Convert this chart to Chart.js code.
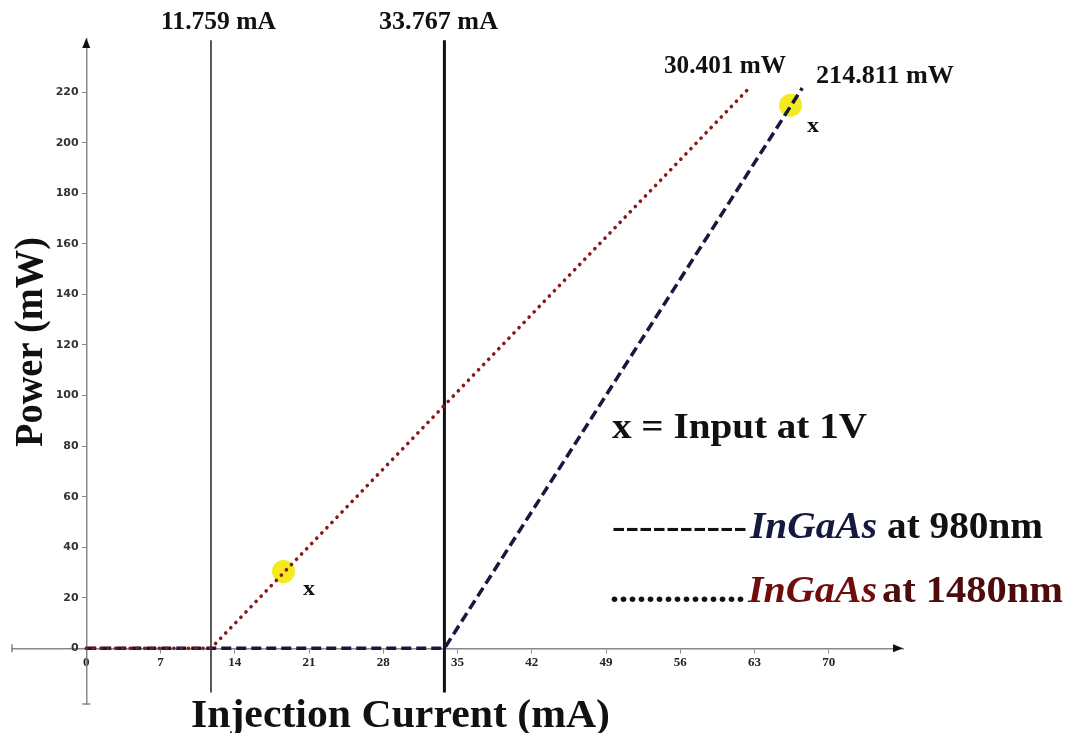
<!DOCTYPE html>
<html>
<head>
<meta charset="utf-8">
<script src="https://cdn.jsdelivr.net/npm/chart.js@4.4.0/dist/chart.umd.min.js"></script>
<style>
  html, body { margin: 0; padding: 0; background: #fff; }
  #wrap { width: 1072px; height: 733px; }
</style>
</head>
<body>
<div id="wrap"><canvas id="liChart" width="1072" height="733"></canvas></div>
<script>
// tick labels
var currentTicks = [0, 7, 14, 21, 28, 35, 42, 49, 56, 63, 70];
var powerTicks = [0, 20, 40, 60, 80, 100, 120, 140, 160, 180, 200, 220];

// threshold currents (mA)
var thresholdCurrents = [11.759, 33.767];
var thresholdSpan = [-17.5, 240.5];

// InGaAs at 980nm
var ingaas980Current = [0, 33.767, 67.5];
var ingaas980Power = [0, 0, 221.6];

// InGaAs at 1480nm
var ingaas1480Current = [0, 11.759, 62.4];
var ingaas1480Power = [0, 0, 221.2];

// input at 1V
var inputCurrent = [18.6, 66.4];
var inputPower = [30.401, 214.811];

function toPoints(xs, ys) {
  return xs.map(function(x, i) { return {x: x, y: ys[i]}; });
}

var serif = '"Liberation Serif", "Times New Roman", serif';

// draw text stretched to a given width
function fitText(ctx, text, x, y, w, font, color) {
  ctx.save();
  ctx.font = font;
  ctx.fillStyle = color;
  ctx.textAlign = 'left';
  ctx.textBaseline = 'alphabetic';
  var m = ctx.measureText(text).width;
  ctx.translate(x, y);
  ctx.scale(w / m, 1);
  ctx.fillText(text, 0, 0);
  ctx.restore();
}

var labels = [
  ['11.759 mA', 161, 29, 115, 'bold 26px ' + serif, '#111'],
  ['33.767 mA', 379, 29, 119, 'bold 26px ' + serif, '#111'],
  ['30.401 mW', 664, 73, 122, 'bold 25px ' + serif, '#111'],
  ['214.811 mW', 816, 83, 138, 'bold 25px ' + serif, '#111'],
  ['x', 303, 595, 12, 'bold 21px ' + serif, '#111'],
  ['x', 807, 132, 12, 'bold 21px ' + serif, '#111'],
  ['x = Input at 1V', 612, 438, 255, 'bold 36px ' + serif, '#111'],
  ['----------', 612, 538, 135, 'bold 36px ' + serif, '#111'],
  ['InGaAs', 750, 538, 127, 'italic bold 37px ' + serif, '#15183f'],
  ['at 980nm', 887, 538, 156, 'bold 37px ' + serif, '#111'],
  ['...............', 610, 602, 135, 'bold 34px ' + serif, '#111'],
  ['InGaAs', 748, 602, 129, 'italic bold 37px ' + serif, '#700c0c'],
  ['at 1480nm', 882, 602, 181, 'bold 37px ' + serif, '#4e0b0b'],
  ['Injection Current (mA)', 191, 727, 419, 'bold 39px ' + serif, '#111']
];

var annotations = {
  id: 'annotations',
  afterDraw: function(chart) {
    var ctx = chart.ctx;
    var area = chart.chartArea;
    var x0 = chart.scales.x.getPixelForValue(0);
    var y0 = chart.scales.y.getPixelForValue(0);
    ctx.save();
    // arrow heads
    ctx.fillStyle = '#111';
    ctx.beginPath();
    ctx.moveTo(x0, area.top - 1);
    ctx.lineTo(x0 - 4, area.top + 9);
    ctx.lineTo(x0 + 4, area.top + 9);
    ctx.closePath();
    ctx.fill();
    ctx.beginPath();
    ctx.moveTo(area.right, y0);
    ctx.lineTo(area.right - 10, y0 - 4);
    ctx.lineTo(area.right - 10, y0 + 4);
    ctx.closePath();
    ctx.fill();
    // end ticks
    ctx.strokeStyle = '#888';
    ctx.lineWidth = 1.5;
    ctx.beginPath();
    ctx.moveTo(area.left, y0 - 4);
    ctx.lineTo(area.left, y0 + 4);
    ctx.moveTo(x0 - 4, area.bottom);
    ctx.lineTo(x0 + 4, area.bottom);
    ctx.stroke();
    ctx.restore();

    labels.forEach(function(l) {
      fitText(ctx, l[0], l[1], l[2], l[3], l[4], l[5]);
    });

    // y axis title
    ctx.save();
    ctx.translate(42, 447);
    ctx.rotate(-Math.PI / 2);
    fitText(ctx, 'Power (mW)', 0, 0, 210, 'bold 40px ' + serif, '#111');
    ctx.restore();
  }
};

var ctx = document.getElementById('liChart').getContext('2d');
new Chart(ctx, {
  type: 'scatter',
  data: {
    datasets: [
      {
        label: 'InGaAs at 1480nm',
        data: toPoints(ingaas1480Current, ingaas1480Power),
        showLine: true,
        borderColor: '#8b1717',
        borderWidth: 3.6,
        borderDash: [0.1, 7.2],
        borderCapStyle: 'round',
        pointRadius: 0,
        tension: 0
      },
      {
        label: 'InGaAs at 980nm',
        data: toPoints(ingaas980Current, ingaas980Power),
        showLine: true,
        borderColor: '#15183f',
        borderWidth: 3.5,
        borderDash: [10, 5],
        pointRadius: 0,
        tension: 0
      },
      {
        label: 'threshold 1',
        data: toPoints([thresholdCurrents[0], thresholdCurrents[0]], thresholdSpan),
        showLine: true,
        borderColor: '#222',
        borderWidth: 1.5,
        pointRadius: 0
      },
      {
        label: 'threshold 2',
        data: toPoints([thresholdCurrents[1], thresholdCurrents[1]], thresholdSpan),
        showLine: true,
        borderColor: '#111',
        borderWidth: 3,
        pointRadius: 0
      },
      {
        label: 'Input at 1V',
        data: toPoints(inputCurrent, inputPower),
        showLine: false,
        backgroundColor: 'rgba(244,232,20,0.95)',
        borderWidth: 0,
        pointRadius: 11.5
      }
    ]
  },
  options: {
    responsive: false,
    animation: false,
    layout: {
      padding: {left: 12, right: 169, top: 39, bottom: 29}
    },
    plugins: {
      legend: {display: false},
      tooltip: {enabled: false}
    },
    scales: {
      x: {
        type: 'linear',
        min: -7,
        max: 77,
        position: {y: 0},
        afterBuildTicks: function(scale) {
          scale.ticks = currentTicks.map(function(v) { return {value: v}; });
        },
        grid: {display: true, drawOnChartArea: false, drawTicks: true, tickLength: 4, color: '#888'},
        border: {display: true, color: '#888', width: 1.5},
        ticks: {
          autoSkip: false,
          maxRotation: 0,
          padding: 2,
          color: '#222',
          font: {family: serif, size: 13, weight: 'bold'}
        }
      },
      y: {
        type: 'linear',
        min: -22,
        max: 241,
        position: {x: 0},
        afterBuildTicks: function(scale) {
          scale.ticks = powerTicks.map(function(v) { return {value: v}; });
        },
        grid: {display: true, drawOnChartArea: false, drawTicks: true, tickLength: 4, color: '#888'},
        border: {display: true, color: '#888', width: 1.5},
        ticks: {
          autoSkip: false,
          color: '#333',
          font: {family: '"DejaVu Sans", sans-serif', size: 11, weight: 'bold'},
          // labels sit flush on the axis otherwise, keep a small gap
          callback: function(v) { return v + '  '; }
        }
      }
    }
  },
  plugins: [annotations]
});
</script>
</body>
</html>
